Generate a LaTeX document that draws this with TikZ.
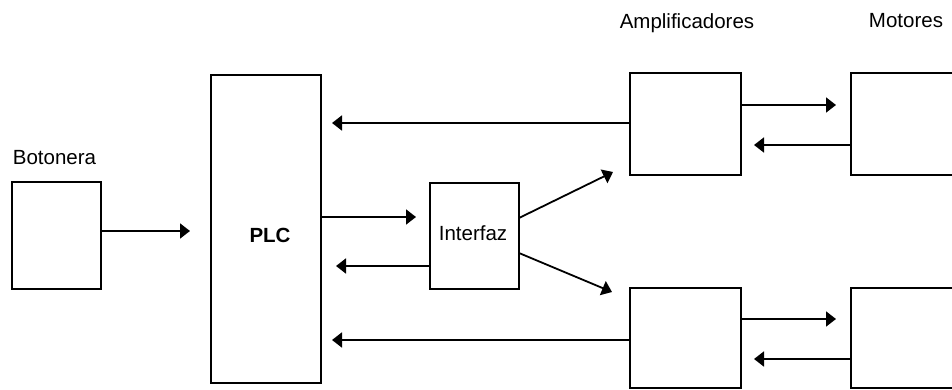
\documentclass[tikz,border=0pt]{standalone}
\usepackage{fontspec}
\setmainfont{Liberation Sans}
\usetikzlibrary{arrows.meta}
\tikzset{
  bloque/.style={draw, line width=1.8pt, inner sep=0pt, outer sep=0pt},
  flecha/.style={line width=1.8pt, -{Triangle[length=10pt,width=15pt]}},
  rotulo/.style={font=\fontsize{20.5}{24}\selectfont}
}

\begin{document}
\begin{tikzpicture}[x=1pt,y=-1pt]
\clip (0,0) rectangle (952,390);
\node[bloque, minimum width=89pt, minimum height=107pt] (botonera) at (56.5,235.5) {};
\node[bloque, minimum width=110pt, minimum height=308pt] (plc) at (266,229) {};
\node[bloque, minimum width=89pt, minimum height=106pt] (interfaz) at (474.5,236) {};
\node[bloque, minimum width=111pt, minimum height=102pt] (amp1) at (685.5,124) {};
\node[bloque, minimum width=111pt, minimum height=100pt] (amp2) at (685.5,338) {};
\node[bloque, minimum width=130pt, minimum height=102pt] (mot1) at (916,124) {};
\node[bloque, minimum width=130pt, minimum height=100pt] (mot2) at (916,338) {};
\node[rotulo, font=\fontsize{20.5}{24}\selectfont\bfseries] (tplc) at (270,235) {PLC};
\node[rotulo] (tint) at (473,233) {Interfaz};
\node[rotulo] (tbot) at (54.5,158) {Botonera};
\node[rotulo] (tamp) at (687,23) {Amplificadores};
\node[rotulo] (tmot) at (906,21) {Motores};
\coordinate (d1) at (613,172);
\coordinate (d2) at (612,292);
% senales
\draw[flecha, shorten >=21pt] (botonera.east |- 0,231) -- (plc.west |- 0,231);
\draw[flecha, shorten >=14pt] (plc.east |- 0,217) -- (interfaz.west |- 0,217);
\draw[flecha, shorten >=15pt] (interfaz.west |- 0,266) -- (plc.east |- 0,266);
\draw[flecha, shorten >=11pt] (amp1.west |- 0,123) -- (plc.east |- 0,123);
\draw[flecha, shorten >=11pt] (amp2.west |- 0,340) -- (plc.east |- 0,340);
\draw[flecha] (interfaz.east |- 0,218) -- (d1);
\draw[flecha] (interfaz.east |- 0,253) -- (d2);
\draw[flecha, shorten >=15pt] (amp1.east |- 0,105) -- (mot1.west |- 0,105);
\draw[flecha, shorten >=13pt] (mot1.west |- 0,145) -- (amp1.east |- 0,145);
\draw[flecha, shorten >=15pt] (amp2.east |- 0,319) -- (mot2.west |- 0,319);
\draw[flecha, shorten >=13pt] (mot2.west |- 0,359) -- (amp2.east |- 0,359);
\end{tikzpicture}
\end{document}
